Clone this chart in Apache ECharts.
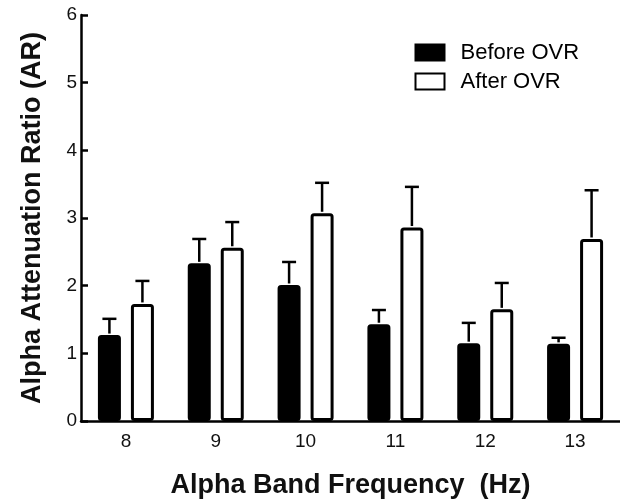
<!DOCTYPE html>
<html>
<head>
<meta charset="utf-8">
<script src="https://cdn.jsdelivr.net/npm/echarts@6/dist/echarts.min.js"></script>
<style>
  html, body { margin: 0; padding: 0; background: #fff; }
  #chart { width: 620px; height: 500px; }
</style>
</head>
<body>
<div id="chart"></div>
<script>
// frequencies on the x axis
var categories = ['8', '9', '10', '11', '12', '13'];
// mean AR before / after OVR
var beforeVals = [1.27, 2.33, 2.01, 1.43, 1.15, 1.14];
var afterVals = [1.73, 2.56, 3.07, 2.86, 1.65, 2.69];
// SEM (only the upper whisker is drawn)
var beforeErr = [0.24, 0.36, 0.34, 0.21, 0.30, 0.09];
var afterErr = [0.34, 0.38, 0.45, 0.60, 0.39, 0.72];
var yTicks = [0, 1, 2, 3, 4, 5, 6];

var BAR_W = 23;   // inner width, border adds 3
var BAR_GAP = 10; // px between the two bars (inner)
var CAP = 7;      // half width of the whisker cap

function errorSeries(vals, errs, side) {
  var data = vals.map(function (v, i) { return [i, v, v + errs[i]]; });
  return {
    type: 'custom',
    silent: true,
    z: 5,
    data: data,
    renderItem: function (params, api) {
      var off = side * (BAR_W + BAR_GAP) / 2;
      var base = api.coord([api.value(0), api.value(1)]);
      var top = api.coord([api.value(0), api.value(2)]);
      var x = base[0] + off;
      var st = { stroke: '#000', lineWidth: 2.5 };
      return {
        type: 'group',
        children: [
          { type: 'line', shape: { x1: x, y1: base[1] - 1.5, x2: x, y2: top[1] }, style: st },
          { type: 'line', shape: { x1: x - CAP, y1: top[1], x2: x + CAP, y2: top[1] }, style: st }
        ]
      };
    }
  };
}

var chart = echarts.init(document.getElementById('chart'));
var font = '"Liberation Sans", Arial, sans-serif';

chart.setOption({
  animation: false,
  textStyle: { fontFamily: font },
  grid: { left: 81, right: 0, top: 15, bottom: 79, containLabel: false, outerBoundsMode: 'none' },
  legend: {
    orient: 'vertical',
    left: 414.5,
    top: 41.5,
    padding: 0,
    itemWidth: 29,
    itemHeight: 16,
    itemGap: 7,
    icon: 'rect',
    textStyle: { fontFamily: font, fontSize: 22, color: '#000', padding: [0, 0, 0, 11] },
    data: ['Before OVR', 'After OVR']
  },
  xAxis: {
    type: 'category',
    data: categories,
    name: 'Alpha Band Frequency  (Hz)',
    nameLocation: 'middle',
    nameGap: 51,
    nameTextStyle: { fontFamily: font, fontSize: 27, fontWeight: 'bold', color: '#111' },
    axisLine: { lineStyle: { color: '#000', width: 2.5 } },
    axisTick: { alignWithLabel: true, length: 7, lineStyle: { color: '#000', width: 2.5 } },
    axisLabel: { fontSize: 19, color: '#111', margin: 11 },
    splitLine: { show: false }
  },
  yAxis: {
    type: 'value',
    min: yTicks[0],
    max: yTicks[yTicks.length - 1],
    interval: 1,
    name: 'Alpha Attenuation Ratio (AR)',
    nameLocation: 'middle',
    nameGap: 35,
    nameTextStyle: { fontFamily: font, fontSize: 27, fontWeight: 'bold', color: '#111' },
    axisLine: { show: true, lineStyle: { color: '#000', width: 2.5 } },
    axisTick: { show: true, inside: true, length: 7, lineStyle: { color: '#000', width: 2.5 } },
    axisLabel: { fontSize: 19, color: '#111', margin: 4 },
    splitLine: { show: false }
  },
  series: [
    {
      name: 'Before OVR',
      type: 'bar',
      data: beforeVals,
      barWidth: BAR_W,
      barGap: (BAR_GAP / BAR_W * 100) + '%',
      itemStyle: { color: '#000', borderColor: '#000', borderWidth: 3, borderRadius: 2 }
    },
    {
      name: 'After OVR',
      type: 'bar',
      data: afterVals,
      barWidth: BAR_W,
      itemStyle: { color: '#fff', borderColor: '#000', borderWidth: 3, borderRadius: 2 }
    },
    errorSeries(beforeVals, beforeErr, -1),
    errorSeries(afterVals, afterErr, 1)
  ]
});
</script>
</body>
</html>
